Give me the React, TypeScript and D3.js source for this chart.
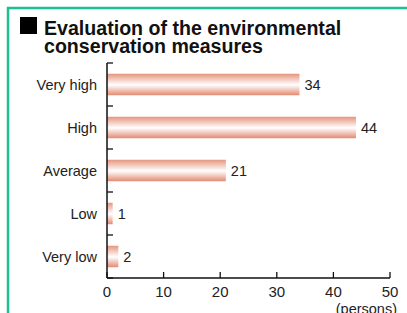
import React from "react";
import * as d3 from "d3";

const categories = ["Very high", "High", "Average", "Low", "Very low"];
const values = [34, 44, 21, 1, 2];
const xTicks = [0, 10, 20, 30, 40, 50];

const W = 407;
const H = 313;
const margin = { top: 63, left: 107, right: 17, bottom: 35 };

const App = () => {
  const x = d3
    .scaleLinear()
    .domain([0, 50])
    .range([margin.left, W - margin.right]);
  const y = d3
    .scaleBand()
    .domain(categories)
    .range([margin.top, H - margin.bottom])
    .paddingInner(0.5)
    .paddingOuter(0.25);
  const step = y.step();
  // band boundaries for the y-axis ticks
  const bounds = d3.range(categories.length + 1).map(i => margin.top + i * step);
  const baseY = H - margin.bottom;
  const font = "'Liberation Sans', Arial, Helvetica, sans-serif";

  return (
    <svg
      width={W}
      height={H}
      style={{ position: "absolute", left: 0, top: 0, background: "#fff" }}
      fontFamily={font}
    >
      <defs>
        <linearGradient id="barGrad" x1="0" y1="0" x2="0" y2="1">
          <stop offset="0%" stopColor="#e6957e" />
          <stop offset="52%" stopColor="#ffffff" />
          <stop offset="100%" stopColor="#e38a71" />
        </linearGradient>
      </defs>

      {/* green frame */}
      <path d={`M8,${H + 2} V8 H${W + 2}`} fill="none" stroke="#1fbe94" strokeWidth={2.5} />

      {/* title */}
      <rect x={20} y={17} width={17} height={17} fill="#000" />
      <text x={44} y={34.5} fontSize={19.6} fontWeight="bold" fill="#111">
        Evaluation of the environmental
      </text>
      <text x={44} y={53} fontSize={19.6} fontWeight="bold" fill="#111">
        conservation measures
      </text>

      {/* bars */}
      {categories.map((c, i) => (
        <g key={c}>
          <rect
            x={x(0)}
            y={y(c)}
            width={x(values[i]) - x(0)}
            height={y.bandwidth()}
            fill="url(#barGrad)"
          />
          <text
            x={x(values[i]) + 5}
            y={y(c)! + y.bandwidth() / 2}
            dy="0.36em"
            fontSize={14.5}
            fill="#222"
          >
            {values[i]}
          </text>
          <text
            x={margin.left - 10}
            y={y(c)! + y.bandwidth() / 2}
            dy="0.36em"
            textAnchor="end"
            fontSize={14.5}
            fill="#222"
          >
            {c}
          </text>
        </g>
      ))}

      {/* y axis */}
      <line x1={x(0)} x2={x(0)} y1={margin.top} y2={baseY} stroke="#111" strokeWidth={1.5} />
      {bounds.map((b, i) => (
        <line key={i} x1={x(0)} x2={x(0) + 6} y1={b} y2={b} stroke="#111" strokeWidth={1.3} />
      ))}

      {/* x axis */}
      <line x1={x(0)} x2={x(50)} y1={baseY} y2={baseY} stroke="#111" strokeWidth={1.5} />
      {xTicks.map(t => (
        <g key={t}>
          <line x1={x(t)} x2={x(t)} y1={baseY} y2={baseY - 6} stroke="#111" strokeWidth={1.3} />
          <text x={x(t)} y={baseY + 19} textAnchor="middle" fontSize={15} fill="#222">
            {t}
          </text>
        </g>
      ))}
      <text x={W - 10} y={314} textAnchor="end" fontSize={14.5} fill="#222">
        (persons)
      </text>
    </svg>
  );
};

export default App;
